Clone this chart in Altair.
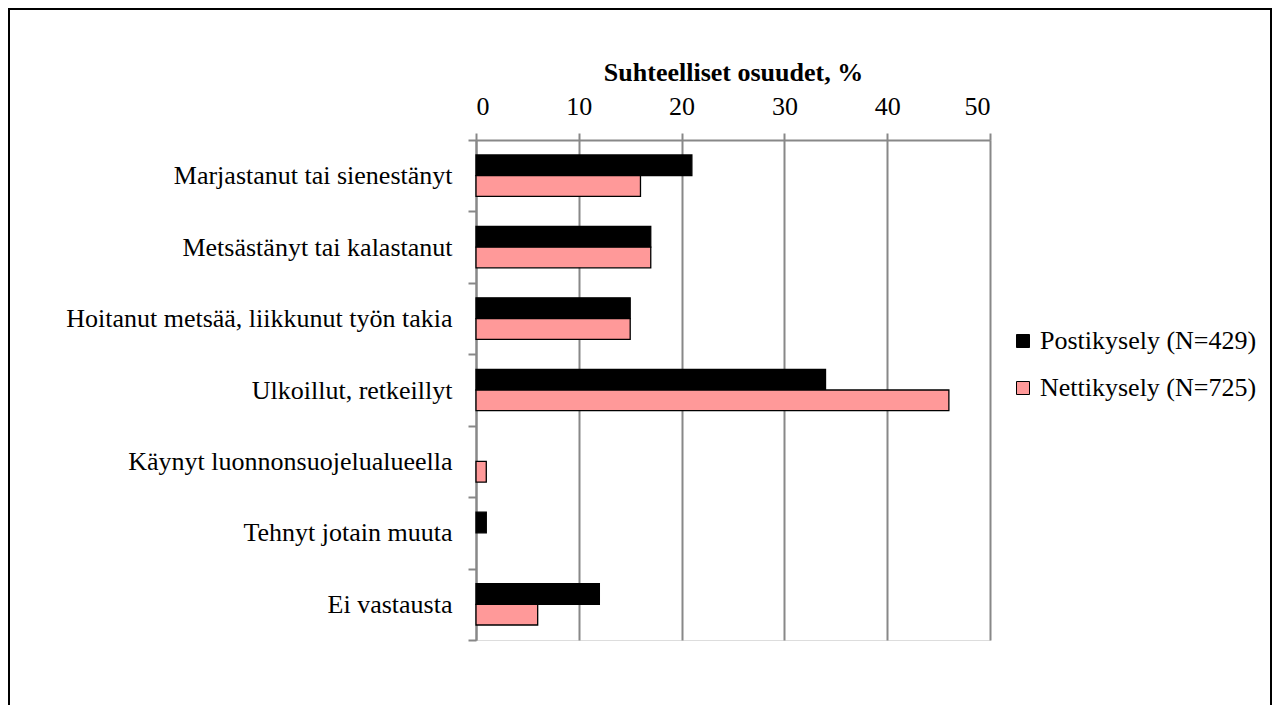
import altair as alt
import pandas as pd

categories = [
    "Marjastanut tai sienestänyt",
    "Metsästänyt tai kalastanut",
    "Hoitanut metsää, liikkunut työn takia",
    "Ulkoillut, retkeillyt",
    "Käynyt luonnonsuojelualueella",
    "Tehnyt jotain muuta",
    "Ei vastausta",
]
series = ["Postikysely (N=429)", "Nettikysely (N=725)"]
posti = [21, 17, 15, 34, 0, 1, 12]
netti = [16, 17, 15, 46, 1, 0, 6]
colors = ["#000000", "#FF9999"]
x_ticks = [0, 10, 20, 30, 40, 50]

rows = []
for i, c in enumerate(categories):
    rows.append({"cat": c, "series": series[0], "value": posti[i]})
    rows.append({"cat": c, "series": series[1], "value": netti[i]})
df = pd.DataFrame(rows)

FONT = "Times New Roman, Liberation Serif, serif"
FS = 26
W, H = 514, 500

bars = alt.Chart(df).mark_bar(stroke="#000000", strokeWidth=1.3).encode(
    y=alt.Y("cat:N", sort=categories,
            scale=alt.Scale(domain=categories, paddingInner=0, paddingOuter=0),
            axis=alt.Axis(title=None, labelFont=FONT, labelFontSize=FS, labelColor="#000",
                          labelPadding=16, tickBand="extent", tickSize=8, tickColor="#888",
                          tickWidth=2, domainColor="#888", domainWidth=2, labelLimit=460)),
    yOffset=alt.YOffset("series:N", sort=series,
                        scale=alt.Scale(domain=series, paddingInner=0, paddingOuter=0.725)),
    x=alt.X("value:Q",
            scale=alt.Scale(domain=[0, 50], nice=False),
            axis=alt.Axis(orient="top", values=x_ticks, title="Suhteelliset osuudet, %",
                          titleFont=FONT, titleFontSize=FS, titleFontWeight="bold",
                          titleColor="#000", titlePadding=8,
                          labelFont=FONT, labelFontSize=FS, labelColor="#000", labelPadding=14,
                          grid=True, gridColor="#888", gridWidth=2,
                          tickSize=7, tickColor="#888", tickWidth=2,
                          domainColor="#888", domainWidth=2)),
    color=alt.Color("series:N", sort=series,
                    scale=alt.Scale(domain=series, range=colors),
                    legend=alt.Legend(title=None, orient="none", legendX=534, legendY=188,
                                      labelFont=FONT, labelFontSize=FS, labelColor="#000",
                                      labelLimit=300,
                                      symbolType="square", symbolSize=169,
                                      symbolStrokeColor="#000", symbolStrokeWidth=1,
                                      symbolOpacity=1, rowPadding=21, labelOffset=4)),
).transform_filter(alt.datum.value > 0)

frame = alt.Chart(alt.Data(values=[{}])).mark_rect(
    fill=None, stroke="#000000", strokeWidth=2
).encode(
    x=alt.value(-467), x2=alt.value(W + 281),
    y=alt.value(-131), y2=alt.value(H + 80),
)

chart = alt.layer(frame, bars).properties(
    width=W, height=H,
    autosize=alt.AutoSizeParams(type="none"),
    padding={"left": 468, "top": 132, "right": 283, "bottom": 65},
).configure_view(stroke=None).configure(background="white")

chart.save("out.html", embed_options={"renderer": "svg", "actions": False})
